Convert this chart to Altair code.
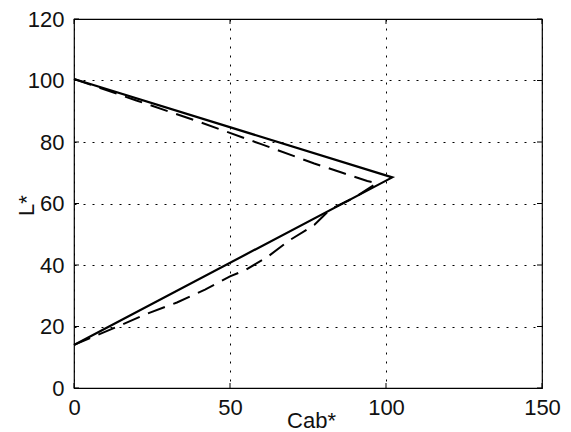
import altair as alt
import pandas as pd

# Solid curve (Cab*, L*)
solid_cab = [0, 102, 0]
solid_l = [100.5, 68.5, 14]

# Dashed curve (Cab*, L*)
dash_cab = [0, 20, 40, 60, 77, 86, 94, 97, 90, 82, 77, 69, 62, 55, 50, 42, 33, 23, 14, 0]
dash_l = [100.5, 93.5, 86.6, 79.3, 73, 70, 67.3, 66.6, 62, 58, 53, 48, 42.6, 38.4, 36.3, 32, 27.8, 24, 20, 14]

x_ticks = [0, 50, 100, 150]
y_ticks = [0, 20, 40, 60, 80, 100, 120]

rows = []
for i, (c, l) in enumerate(zip(solid_cab, solid_l)):
    rows.append({"series": "solid", "i": i, "cab": c, "L": l})
for i, (c, l) in enumerate(zip(dash_cab, dash_l)):
    rows.append({"series": "dashed", "i": i, "cab": c, "L": l})
df = pd.DataFrame(rows)

FONT = "Liberation Sans"
FS = 22

xscale = alt.Scale(domain=[0, 150], nice=False, zero=False)
yscale = alt.Scale(domain=[0, 120], nice=False, zero=False)

xaxis = alt.Axis(values=x_ticks, title="Cab*", grid=True, gridColor="black",
                 gridDash=[2, 7], gridWidth=1, gridOpacity=1, ticks=False,
                 domain=False, labelFont=FONT, labelFontSize=FS, labelColor="#111111",
                 labelPadding=9, labelFlush=False,
                 titleFont=FONT, titleFontSize=FS, titleFontWeight="normal",
                 titleColor="#111111", titleX=237, titleY=39, titleBaseline="alphabetic")
yaxis = alt.Axis(values=y_ticks, title="L*", grid=True, gridColor="black",
                 gridDash=[2, 7], gridWidth=1, gridOpacity=1, ticks=False,
                 domain=False, labelFont=FONT, labelFontSize=FS, labelColor="#111111",
                 labelPadding=10, labelFlush=False,
                 titleFont=FONT, titleFontSize=FS, titleFontWeight="normal",
                 titleColor="#111111", titleX=-41, titleY=186, titleAngle=-90,
                 titleAlign="center", titleBaseline="alphabetic")

solid = alt.Chart(df[df.series == "solid"]).mark_line(
    color="black", strokeWidth=2.2
).encode(
    x=alt.X("cab:Q", scale=xscale, axis=xaxis),
    y=alt.Y("L:Q", scale=yscale, axis=yaxis),
    order="i:Q",
)

dashed = alt.Chart(df[df.series == "dashed"]).mark_line(
    color="black", strokeWidth=2, strokeDash=[18, 9]
).encode(
    x=alt.X("cab:Q", scale=xscale),
    y=alt.Y("L:Q", scale=yscale),
    order="i:Q",
)

xt = pd.DataFrame({"v": x_ticks})
yt = pd.DataFrame({"v": y_ticks})
xtick_b = alt.Chart(xt).mark_rule(color="black", strokeWidth=1).encode(
    x=alt.X("v:Q", scale=xscale), y=alt.value(369), y2=alt.value(364))
xtick_t = alt.Chart(xt).mark_rule(color="black", strokeWidth=1).encode(
    x=alt.X("v:Q", scale=xscale), y=alt.value(0), y2=alt.value(5))
ytick_l = alt.Chart(yt).mark_rule(color="black", strokeWidth=1).encode(
    y=alt.Y("v:Q", scale=yscale), x=alt.value(0), x2=alt.value(5))
ytick_r = alt.Chart(yt).mark_rule(color="black", strokeWidth=1).encode(
    y=alt.Y("v:Q", scale=yscale), x=alt.value(468), x2=alt.value(463))

chart = alt.layer(solid, dashed, xtick_b, xtick_t, ytick_l, ytick_r).properties(
    width=468, height=369,
    autosize=alt.AutoSizeParams(type="none"),
    padding={"left": 74, "top": 19, "right": 29, "bottom": 44},
    background="white",
).configure_view(stroke="black", strokeWidth=1.2)

chart.save("out.html", embed_options={"renderer": "svg", "actions": False})
